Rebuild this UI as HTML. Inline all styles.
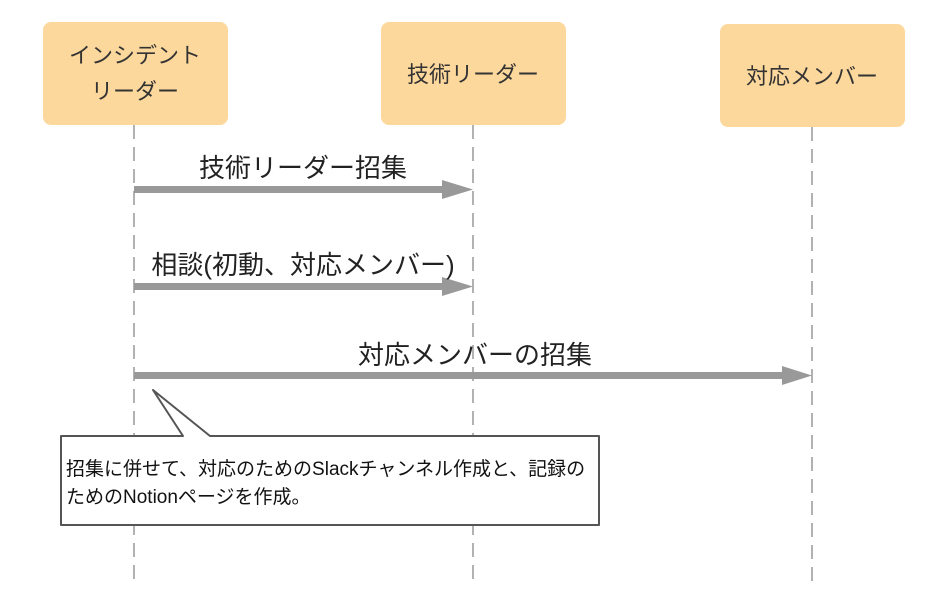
<!DOCTYPE html>
<html><head><meta charset="utf-8"><style>
html,body{margin:0;padding:0;background:#fff;}
svg{display:block;font-family:"Liberation Sans","Noto Sans CJK JP",sans-serif;}
</style></head><body>
<svg width="949" height="589" viewBox="0 0 949 589" xmlns="http://www.w3.org/2000/svg">
<g stroke="#999" stroke-width="1.5" stroke-dasharray="14,8">
<line x1="134" y1="125" x2="134" y2="580"/>
<line x1="473" y1="125" x2="473" y2="580"/>
<line x1="812" y1="127" x2="812" y2="589"/>
</g>
<rect x="43" y="22" width="185" height="103" rx="8" fill="#fdd89c"/>
<rect x="381" y="22" width="185" height="103" rx="8" fill="#fdd89c"/>
<rect x="720" y="24" width="185" height="103" rx="8" fill="#fdd89c"/>
<g fill="#333" font-size="22" text-anchor="middle">
<text x="135" y="63">インシデント</text>
<text x="135" y="99">リーダー</text>
<text x="473" y="82">技術リーダー</text>
<text x="812" y="84">対応メンバー</text>
</g>
<g fill="#999">
<rect x="134" y="186" width="310" height="7"/>
<polygon points="442,180 473,189.5 442,199"/>
<rect x="134" y="283" width="310" height="7"/>
<polygon points="442,277 473,286.5 442,296"/>
<rect x="134" y="372" width="650" height="7"/>
<polygon points="782,366 812,375.5 782,385"/>
</g>
<g fill="#222" font-size="26" text-anchor="middle">
<text x="303" y="177">技術リーダー招集</text>
<text x="303" y="274">相談(初動、対応メンバー)</text>
<text x="475" y="364">対応メンバーの招集</text>
</g>
<path d="M61,436 L183,436 L153,390 L210,436 L599,436 L599,525 L61,525 Z" fill="#fff" stroke="#555" stroke-width="2" stroke-linejoin="round"/>
<g fill="#111" font-size="19">
<text x="66" y="475">招集に併せて、対応のためのSlackチャンネル作成と、記録の</text>
<text x="66" y="503">ためのNotionページを作成。</text>
</g>
</svg>
</body></html>
